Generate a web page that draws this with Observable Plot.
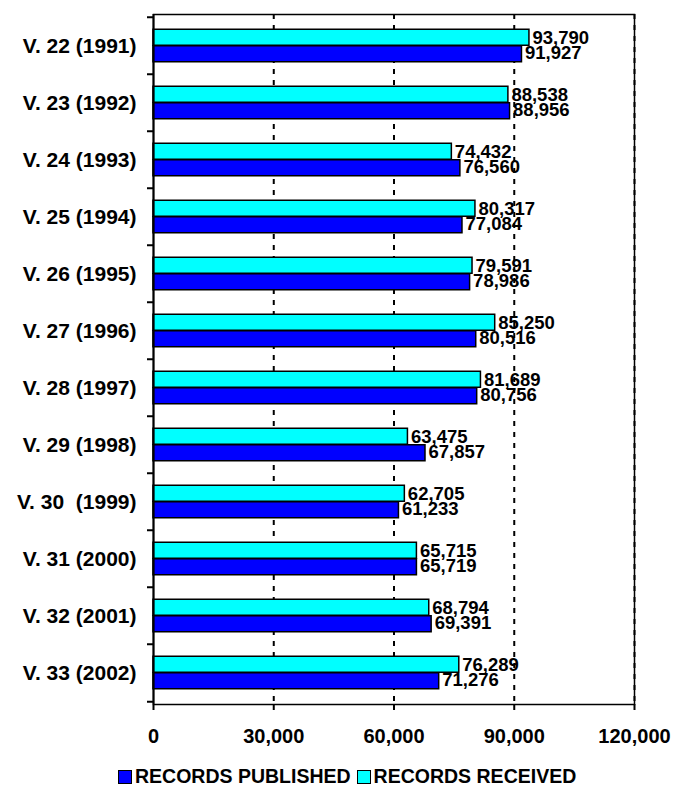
<!DOCTYPE html>
<html><head><meta charset="utf-8">
<script src="https://cdn.jsdelivr.net/npm/d3@7"></script>
<script src="https://cdn.jsdelivr.net/npm/@observablehq/plot@0.6"></script>
<style>
body{margin:0;background:#fff;font-family:"Liberation Sans",Arial,sans-serif;}
#chart{position:relative;width:676px;height:800px;}
#chart svg text{white-space:pre;}
.legend{position:absolute;left:118px;top:765px;display:flex;align-items:center;font-weight:bold;font-size:19.5px;color:#000;white-space:nowrap;}
.sw{width:12px;height:12px;border:1.5px solid #000;display:inline-block;margin-right:3px;}
</style></head><body><div id="chart"></div>
<script>
const categories = ["V. 22 (1991)","V. 23 (1992)","V. 24 (1993)","V. 25 (1994)","V. 26 (1995)","V. 27 (1996)","V. 28 (1997)","V. 29 (1998)","V. 30  (1999)","V. 31 (2000)","V. 32 (2001)","V. 33 (2002)"];
const published = [91927, 88956, 76560, 77084, 78986, 80516, 80756, 67857, 61233, 65719, 69391, 71276];
const received = [93790, 88538, 74432, 80317, 79591, 85250, 81689, 63475, 62705, 65715, 68794, 76289];
const xTicks = [0, 30000, 60000, 90000, 120000];
const seriesNames = ["RECORDS PUBLISHED", "RECORDS RECEIVED"];
const seriesColors = ["#0000FF", "#00FFFF"];

const rows = categories.map((c, i) => ({category: c, published: published[i], received: received[i]}));
const H = 754, mt = 14, mb = 50;
const band = (H - mt - mb) / categories.length;
const barH = 16.5, pad = (band - 2 * barH) / 2;
const fmt = d3.format(",");
const font = "'Liberation Sans', Arial, sans-serif";

const plot = Plot.plot({
  width: 676, height: H, marginTop: mt, marginBottom: mb, marginLeft: 153, marginRight: 42,
  style: {fontFamily: font, fontWeight: "bold", color: "#000", background: "#fff", overflow: "visible"},
  x: {domain: [0, 120000]},
  y: {domain: categories, padding: 0},
  marks: [
    Plot.ruleX(xTicks.slice(1), {stroke: "#000", strokeWidth: 2, strokeDasharray: "5,6"}),
    Plot.barX(rows, {x: "received", y: "category", fill: seriesColors[1], stroke: "#000", strokeWidth: 1.5, insetTop: pad, insetBottom: pad + barH}),
    Plot.barX(rows, {x: "published", y: "category", fill: seriesColors[0], stroke: "#000", strokeWidth: 1.5, insetTop: pad + barH, insetBottom: pad}),
    Plot.text(rows, {x: "received", y: "category", text: d => fmt(d.received), dx: 3, dy: -8, textAnchor: "start", fontSize: 18.5, fontWeight: "bold", fill: "#000"}),
    Plot.text(rows, {x: "published", y: "category", text: d => fmt(d.published), dx: 3, dy: 7, textAnchor: "start", fontSize: 18.5, fontWeight: "bold", fill: "#000"}),
    Plot.frame({stroke: "#000", strokeWidth: 1.5}),
    Plot.ruleX([0], {stroke: "#000", strokeWidth: 2}),
    Plot.ruleY(categories, {y: d => d, x1: 0, x2: 0, insetLeft: -6, dy: -band / 2, stroke: "#000", strokeWidth: 2}),
    Plot.ruleY([categories[categories.length - 1]], {y: d => d, x1: 0, x2: 0, insetLeft: -6, dy: band / 2, stroke: "#000", strokeWidth: 2}),
    Plot.axisX({ticks: xTicks, tickFormat: fmt, tickSize: 6, tickPadding: 18, fontSize: 20, fontWeight: "bold", strokeWidth: 2, label: null}),
    Plot.axisY({tickSize: 0, tickPadding: 17, fontSize: 21, fontWeight: "bold", label: null})
  ]
});
const chart = document.getElementById("chart");
chart.appendChild(plot);
const lg = document.createElement("div");
lg.className = "legend";
lg.innerHTML = seriesNames.map((n, i) => `<span class="sw" style="background:${seriesColors[i]}"></span><span style="margin-right:6px">${n}</span>`).join("");
chart.appendChild(lg);
</script>
</body></html>
